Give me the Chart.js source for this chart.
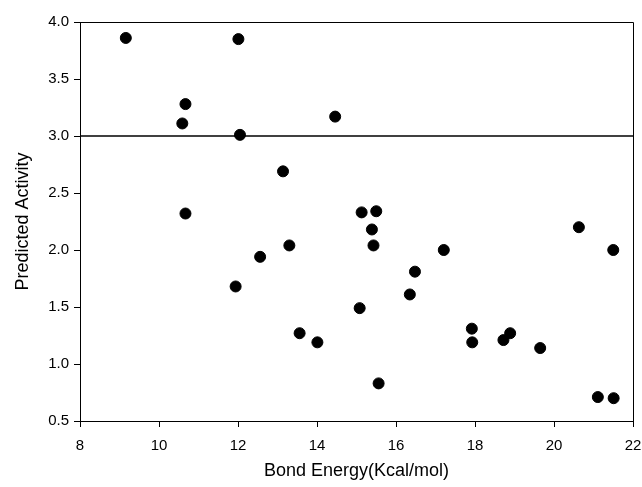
<!DOCTYPE html>
<html lang="en">
<head>
  <meta charset="UTF-8" />
  <title>Predicted Activity vs Bond Energy</title>
  <style>
    body {
      margin: 0;
      padding: 0;
      background: #fff;
    }
    canvas {
      display: block;
    }
  </style>
</head>
<body>
  <canvas id="scatterChart" width="642" height="487"></canvas>

  <script src="https://cdn.jsdelivr.net/npm/chart.js"></script>
  <script>
    // values
    const bondEnergy = [9.16, 12.01, 10.67, 10.59, 12.05, 14.46, 10.67, 13.14, 15.13, 15.50, 15.39,
      15.43, 13.30, 12.56, 11.94, 16.48, 16.35, 15.08, 13.56, 14.01, 15.56, 17.21,
      20.63, 21.50, 17.92, 17.93, 18.72, 18.89, 19.65, 21.11, 21.51];
    const predictedActivity = [3.86, 3.85, 3.28, 3.11, 3.01, 3.17, 2.32, 2.69, 2.33, 2.34, 2.18,
      2.04, 2.04, 1.94, 1.68, 1.81, 1.61, 1.49, 1.27, 1.19, 0.83, 2.00,
      2.20, 2.00, 1.31, 1.19, 1.21, 1.27, 1.14, 0.71, 0.70];
    const xTicks = [8, 10, 12, 14, 16, 18, 20, 22];
    const yTicks = [0.5, 1.0, 1.5, 2.0, 2.5, 3.0, 3.5, 4.0];
    const cutoff = 3.0;

    const points = bondEnergy.map((x, i) => ({ x: x, y: predictedActivity[i] }));
    const cutoffLine = [
      { x: xTicks[0], y: cutoff },
      { x: xTicks[xTicks.length - 1], y: cutoff }
    ];

    // draws the top and right sides of the frame
    const frame = {
      id: 'frame',
      afterDraw(chart) {
        const a = chart.chartArea;
        const ctx = chart.ctx;
        ctx.save();
        ctx.strokeStyle = '#000';
        ctx.lineWidth = 1;
        ctx.beginPath();
        ctx.moveTo(Math.round(a.left) + 0.5, Math.round(a.top) + 0.5);
        ctx.lineTo(Math.round(a.right) + 0.5, Math.round(a.top) + 0.5);
        ctx.lineTo(Math.round(a.right) + 0.5, Math.round(a.bottom) + 0.5);
        ctx.stroke();
        ctx.restore();
      }
    };

    const tickFont = { family: 'Liberation Sans, Arial, sans-serif', size: 15 };
    const titleFont = { family: 'Liberation Sans, Arial, sans-serif', size: 18 };

    new Chart(document.getElementById('scatterChart').getContext('2d'), {
      type: 'scatter',
      data: {
        datasets: [{
          data: points,
          backgroundColor: '#000',
          borderColor: '#000',
          pointRadius: 5.5,
          pointHoverRadius: 5.5
        }, {
          type: 'line',
          data: cutoffLine,
          borderColor: '#000',
          borderWidth: 1.5,
          pointRadius: 0,
          fill: false
        }]
      },
      options: {
        responsive: false,
        animation: false,
        layout: { padding: { top: 22, right: 9, left: 0, bottom: 0 } },
        plugins: {
          legend: { display: false },
          tooltip: { enabled: false }
        },
        scales: {
          x: {
            type: 'linear',
            min: 8,
            max: 22,
            afterFit(scale) {
              scale.height = 66;
              scale.paddingLeft = 0;
              scale.paddingRight = 0;
            },
            afterBuildTicks(scale) { scale.ticks = xTicks.map(v => ({ value: v })); },
            grid: { drawOnChartArea: false, drawTicks: true, tickLength: 6, color: '#000' },
            border: { display: true, color: '#000', width: 1 },
            ticks: { color: '#000', font: tickFont, padding: 10, maxRotation: 0 },
            title: {
              display: true,
              text: 'Bond Energy(Kcal/mol)',
              color: '#000',
              font: titleFont,
              padding: { top: 0, bottom: 5 }
            }
          },
          y: {
            min: 0.5,
            max: 4.0,
            afterFit(scale) {
              scale.width = 80;
              scale.paddingTop = 0;
              scale.paddingBottom = 0;
            },
            afterBuildTicks(scale) { scale.ticks = yTicks.map(v => ({ value: v })); },
            grid: { drawOnChartArea: false, drawTicks: true, tickLength: 6, color: '#000' },
            border: { display: true, color: '#000', width: 1 },
            ticks: {
              color: '#000',
              font: tickFont,
              padding: 5,
              callback: v => Number(v).toFixed(1)
            },
            title: {
              display: true,
              text: 'Predicted Activity',
              color: '#000',
              font: titleFont,
              padding: { top: 12, bottom: 0 }
            }
          }
        }
      },
      plugins: [frame]
    });
  </script>
</body>
</html>
